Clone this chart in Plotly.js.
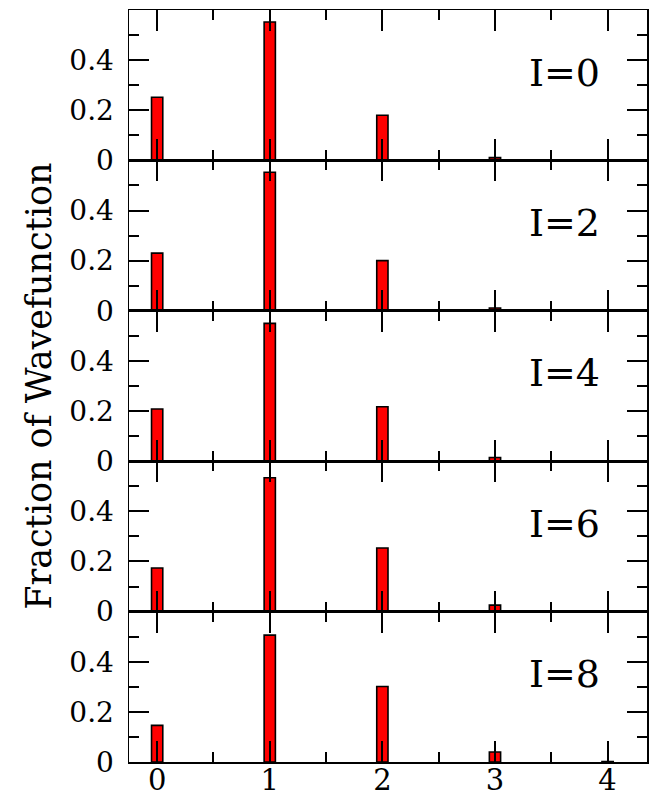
<!DOCTYPE html>
<html>
<head>
<meta charset="utf-8">
<script src="https://cdn.plot.ly/plotly-3.0.1.min.js"></script>
<style>html,body{margin:0;padding:0;background:#fff;}#chart{width:650px;height:800px;}</style>
</head>
<body>
<div id="chart"></div>
<script>
const categories = [0, 1, 2, 3, 4];
const panelLabels = ['I=0', 'I=2', 'I=4', 'I=6', 'I=8'];
const valuesI0 = [0.252, 0.552, 0.180, 0.011, 0.0];
const valuesI2 = [0.230, 0.553, 0.200, 0.011, 0.0];
const valuesI4 = [0.208, 0.550, 0.217, 0.015, 0.0];
const valuesI6 = [0.174, 0.534, 0.254, 0.026, 0.0];
const valuesI8 = [0.146, 0.506, 0.301, 0.040, 0.002];
const xTickVals = [0, 1, 2, 3, 4];
const xTickText = ['0', '1', '2', '3', '4'];
const yTickVals = [0, 0.2, 0.4];
const yTickText = ['0', '0.2', '0.4'];
const yMinorVals = [0.1, 0.3, 0.5];
const yTitle = 'Fraction of Wavefunction';

const series = [valuesI0, valuesI2, valuesI4, valuesI6, valuesI8];
const FONT = 'DejaVu Serif';
const n = series.length;

const data = [];
const layout = {
  width: 650, height: 800,
  margin: {l: 129, r: 3, t: 10, b: 38},
  paper_bgcolor: '#fff', plot_bgcolor: '#fff',
  showlegend: false,
  font: {family: FONT, color: '#000', size: 28},
  annotations: [],
  bargap: 0
};

series.forEach((vals, i) => {
  const k = i + 1;
  const xa = k === 1 ? 'x' : 'x' + k;
  const ya = k === 1 ? 'y' : 'y' + k;
  data.push({
    type: 'bar', x: categories, y: vals, width: 0.1,
    xaxis: xa, yaxis: ya,
    marker: {color: '#ff0000', line: {color: '#000', width: 1.6}},
    hoverinfo: 'x+y'
  });
  const top = 1 - i / n, bottom = 1 - (i + 1) / n;
  const isBottom = (k === n);
  layout[k === 1 ? 'xaxis' : 'xaxis' + k] = {
    anchor: ya, domain: [0, 1], range: [-0.25, 4.35],
    tickvals: xTickVals, ticktext: xTickText,
    showticklabels: isBottom,
    ticks: 'inside', ticklen: 21, tickwidth: 2, tickcolor: '#000',
    minor: {dtick: 0.5, tick0: 0, ticks: 'inside', ticklen: 10, tickwidth: 2, tickcolor: '#000', showgrid: false},
    showline: true, linewidth: 1.5, linecolor: '#000', mirror: 'ticks',
    showgrid: false, zeroline: false,
    tickfont: {family: FONT, size: 29, color: '#000'},
    ticklabelstandoff: -8,
    layer: 'above traces', fixedrange: true
  };
  layout[k === 1 ? 'yaxis' : 'yaxis' + k] = {
    anchor: xa, domain: [bottom, top], range: [0, 0.6],
    tickvals: yTickVals, ticktext: yTickText,
    ticks: 'inside', ticklen: 20, tickwidth: 2, tickcolor: '#000',
    minor: {tickvals: yMinorVals, ticks: 'inside', ticklen: 10, tickwidth: 2, tickcolor: '#000', showgrid: false},
    showline: true, linewidth: 1.5, linecolor: '#000', mirror: 'ticks',
    showgrid: false, zeroline: false,
    tickfont: {family: FONT, size: 28, color: '#000'},
    ticklabelstandoff: 8,
    layer: 'above traces', fixedrange: true
  };
  layout.annotations.push({
    text: panelLabels[i], xref: xa, yref: ya, x: 3.62, y: 0.35,
    xanchor: 'center', yanchor: 'middle', showarrow: false,
    font: {family: FONT, size: 38, color: '#000'}
  });
});

layout.annotations.push({
  text: yTitle, xref: 'paper', yref: 'paper', x: -0.174, y: 0.5,
  xanchor: 'center', yanchor: 'middle', textangle: -90, showarrow: false,
  font: {family: FONT, size: 35, color: '#000'}
});

Plotly.newPlot('chart', data, layout, {displayModeBar: false, staticPlot: true});
</script>
</body>
</html>
